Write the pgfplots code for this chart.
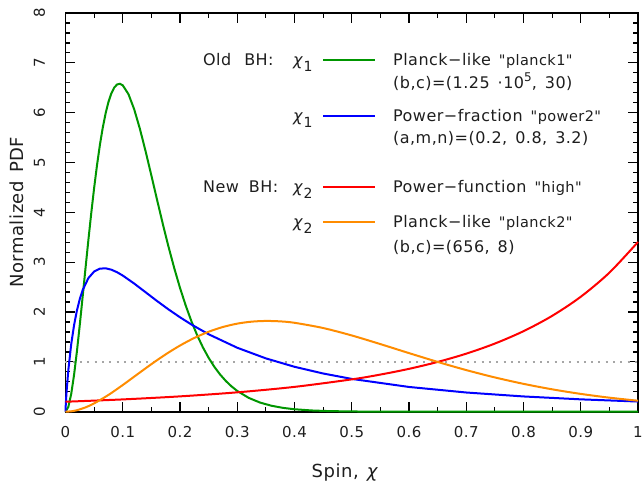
\documentclass[border=0pt]{standalone}
\usepackage{pgfplots}
\pgfplotsset{compat=1.18}
\usepackage{fontspec}
\setmainfont{DejaVu Sans}[LetterSpace=3, Ligatures=TeXOff]
\definecolor{cgreen}{RGB}{0,150,0}
\definecolor{corange}{RGB}{255,140,0}
\definecolor{txt}{RGB}{30,30,30}
\newcommand{\leg}{\fontsize{16}{19}\selectfont\spaceskip=8pt\relax}
\newcommand{\q}[1]{{\fontsize{14.5}{17}\selectfont #1}}
\newcommand{\chisub}[1]{\textit{χ}\raisebox{-6pt}{\fontsize{14}{14}\selectfont #1}}
\begin{document}
\begin{tikzpicture}
\useasboundingbox (-65.5pt,-71.3pt) rectangle (576.5pt,411.7pt);
\begin{axis}[
  at={(0,0)}, anchor=south west,
  scale only axis, width=572.5pt, height=398.7pt,
  xmin=0, xmax=1, ymin=0, ymax=8,
  xtick={0,0.1,0.2,0.3,0.4,0.5,0.6,0.7,0.8,0.9,1},
  xticklabels={0,0.1,0.2,0.3,0.4,0.5,0.6,0.7,0.8,0.9,1},
  ytick={0,1,2,3,4,5,6,7,8},
  yticklabels={},
  minor x tick num=1, minor y tick num=4,
  tick align=inside,
  major tick length=10pt, minor tick length=5pt,
  axis line style={line width=1.8pt, black},
  every tick/.style={black, line width=1.2pt},
  clip=false,
  /pgf/number format/assume math mode=true,
  ticklabel style={font=\fontsize{15}{15}\selectfont, text=txt},
  xticklabel style={anchor=north, inner sep=0pt, yshift=-14.3pt},
  xlabel={Spin,\hspace{8pt}\textit{χ}},
  ylabel={Normalized\hspace{8pt}PDF},
  xlabel style={at={(axis description cs:0.4885,-0.1638)}, anchor=base, inner sep=0pt, font=\fontsize{18}{18}\selectfont, text=txt},
  ylabel style={at={(axis description cs:-0.0742,0.5)}, anchor=base, inner sep=0pt, font=\fontsize{18}{18}\selectfont, text=txt},
]
\addplot[gray!70, line width=1.5pt, dash pattern=on 2pt off 5.3pt] coordinates {(0,1) (1,1)};
% green: Planck-like planck1
\addplot[cgreen, line width=2pt] coordinates {
(0,0) (0.005,0.0966) (0.01,0.3573) (0.015,0.7423) (0.02,1.2164) (0.025,1.7486) (0.03,2.3123) (0.035,2.8850) (0.04,3.4481) (0.045,3.9863) (0.05,4.4878) (0.055,4.9434) (0.06,5.3469) (0.065,5.6942) (0.07,5.9830) (0.075,6.2130) (0.08,6.3853) (0.085,6.5017) (0.09,6.5653) (0.095,6.5799) (0.1,6.5495) (0.11,6.3714) (0.12,6.0677) (0.13,5.6738) (0.14,5.2218) (0.15,4.7393) (0.16,4.2486) (0.17,3.7672) (0.18,3.3076) (0.19,2.8784) (0.2,2.4849) (0.21,2.1297) (0.22,1.8131) (0.23,1.5343) (0.24,1.2911) (0.25,1.0809) (0.26,0.9005) (0.27,0.7470) (0.28,0.6172) (0.29,0.5079) (0.3,0.4166) (0.32,0.2774) (0.34,0.1826) (0.36,0.1190) (0.38,0.0768) (0.4,0.0492) (0.43,0.0248) (0.46,0.0124) (0.5,0.0048) (0.55,0.0014) (0.6,0.0004) (0.7,0) (0.8,0) (1,0)};
% blue: power-fraction power2
\addplot[blue, line width=2pt] coordinates {
(0,0) (0.0005,0.1431) (0.001,0.2472) (0.002,0.4237) (0.005,0.8412) (0.01,1.3559) (0.015,1.7390) (0.02,2.0342) (0.025,2.2631) (0.03,2.4400) (0.04,2.6812) (0.05,2.8125) (0.06,2.8702) (0.07,2.8775) (0.08,2.8502) (0.09,2.7992) (0.1,2.7323) (0.12,2.5713) (0.14,2.3960) (0.16,2.2205) (0.18,2.0522) (0.2,1.8948) (0.22,1.7494) (0.25,1.5539) (0.3,1.2833) (0.35,1.0700) (0.4,0.9013) (0.45,0.7667) (0.5,0.6581) (0.6,0.4965) (0.7,0.3853) (0.8,0.3061) (0.9,0.2479) (1,0.2040)};
% red: power-function high
\addplot[red, line width=2pt, smooth] coordinates {
(0,0.2) (0.1,0.2467) (0.2,0.3077) (0.3,0.3888) (0.4,0.4982) (0.5,0.6487) (0.55,0.7452) (0.6,0.8601) (0.65,0.9981) (0.7,1.1647) (0.75,1.3674) (0.8,1.6158) (0.85,1.9230) (0.9,2.3064) (0.95,2.7899) (1,3.4059)};
% orange: Planck-like planck2
\addplot[corange, line width=2pt, smooth] coordinates {
(0,0) (0.01,0.0079) (0.02,0.0303) (0.035,0.0870) (0.05,0.1667) (0.075,0.3366) (0.1,0.5353) (0.125,0.7457) (0.15,0.9543) (0.175,1.1507) (0.2,1.3276) (0.225,1.4798) (0.25,1.6043) (0.275,1.7000) (0.3,1.7671) (0.325,1.8068) (0.35,1.8211) (0.375,1.8126) (0.4,1.7841) (0.45,1.6792) (0.5,1.5299) (0.55,1.3566) (0.6,1.1758) (0.65,0.9993) (0.7,0.8351) (0.75,0.6877) (0.8,0.5590) (0.85,0.4492) (0.9,0.3573) (0.95,0.2816) (1,0.2201)};
% y tick labels, rotated as in the reference
\begin{scope}[every node/.style={rotate=90, anchor=base, inner sep=0pt, text=txt, font=\fontsize{15}{15}\selectfont}]
\node at ([xshift=-20.5pt]axis cs:0,0) {0};
\node at ([xshift=-20.5pt]axis cs:0,1) {1};
\node at ([xshift=-20.5pt]axis cs:0,2) {2};
\node at ([xshift=-20.5pt]axis cs:0,3) {3};
\node at ([xshift=-20.5pt]axis cs:0,4) {4};
\node at ([xshift=-20.5pt]axis cs:0,5) {5};
\node at ([xshift=-20.5pt]axis cs:0,6) {6};
\node at ([xshift=-20.5pt]axis cs:0,7) {7};
\node at ([xshift=-20.5pt]axis cs:0,8) {8};
\end{scope}
% legend
\draw[cgreen, line width=2pt] (axis cs:0.4498,7.057) -- (axis cs:0.5406,7.057);
\draw[blue, line width=2pt] (axis cs:0.4498,5.933) -- (axis cs:0.5406,5.933);
\draw[red, line width=2pt] (axis cs:0.4498,4.508) -- (axis cs:0.5406,4.508);
\draw[corange, line width=2pt] (axis cs:0.4498,3.806) -- (axis cs:0.5406,3.806);
\begin{scope}[every node/.style={anchor=base west, inner sep=0pt, text=txt, font=\leg}]
\node at (axis cs:0.240,6.956) {Old\hspace{13pt}BH:};
\node at (axis cs:0.3974,6.956) {\chisub{1}};
\node at (axis cs:0.572,6.956) {Planck−like \q{"planck1"}};
\node at (axis cs:0.572,6.495) {(b,c)=(1.25 ·10\raisebox{7pt}{\fontsize{12}{12}\selectfont 5}, 30)};
\node at (axis cs:0.3974,5.833) {\chisub{1}};
\node at (axis cs:0.572,5.833) {Power−fraction \q{"power2"}};
\node at (axis cs:0.572,5.391) {(a,m,n)=(0.2, 0.8, 3.2)};
\node at (axis cs:0.240,4.408) {New\hspace{10pt}BH:};
\node at (axis cs:0.3974,4.408) {\chisub{2}};
\node at (axis cs:0.572,4.408) {Power−function \q{"high"}};
\node at (axis cs:0.3974,3.706) {\chisub{2}};
\node at (axis cs:0.572,3.706) {Planck−like \q{"planck2"}};
\node at (axis cs:0.572,3.204) {(b,c)=(656, 8)};
\end{scope}
\end{axis}
\end{tikzpicture}
\end{document}
